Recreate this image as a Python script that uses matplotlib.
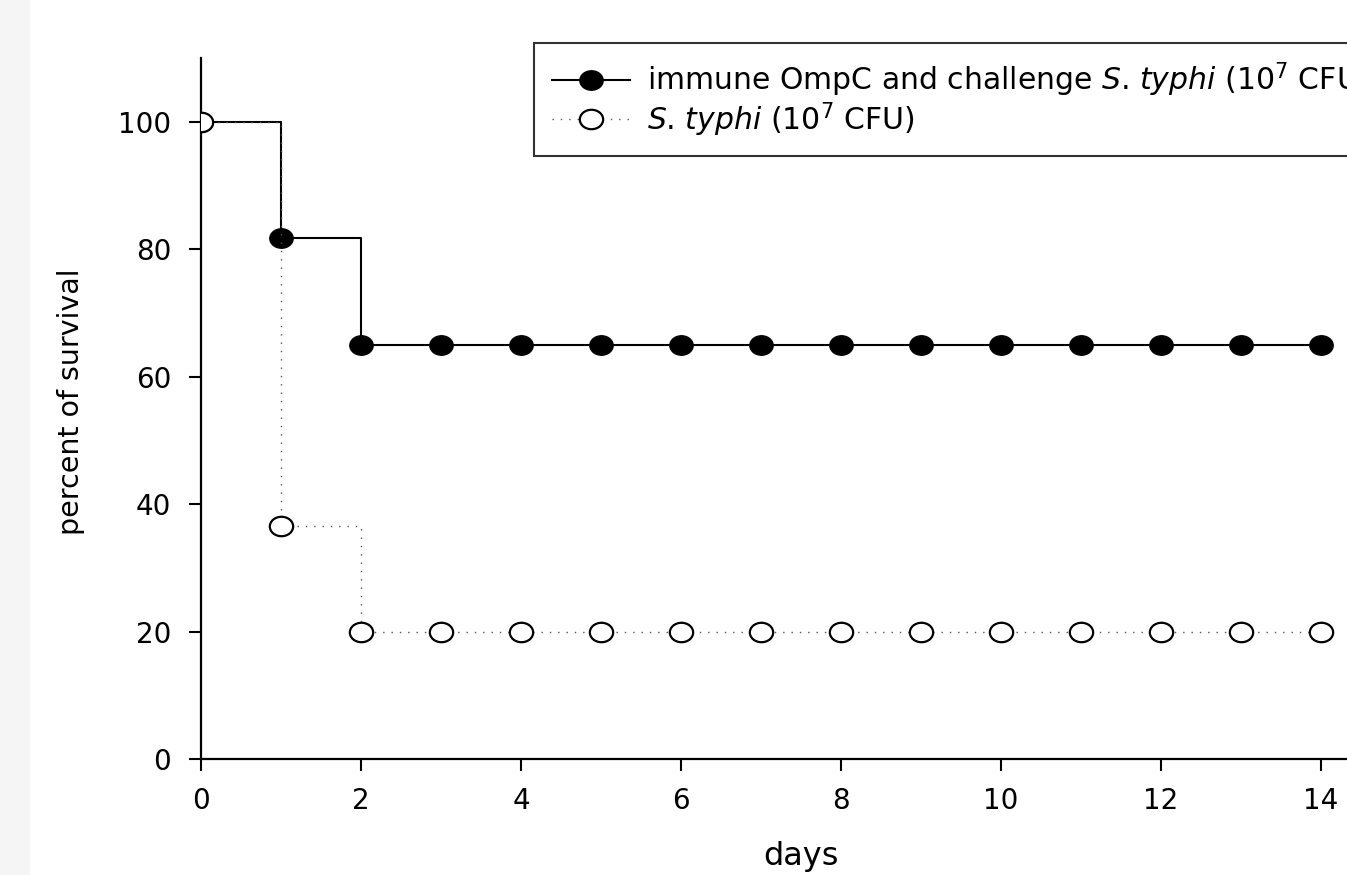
import numpy as np
import matplotlib
matplotlib.use("Agg")
import matplotlib.pyplot as plt
from matplotlib.markers import MarkerStyle
from matplotlib.transforms import Affine2D
from matplotlib.patches import Rectangle

plt.rcParams['font.family'] = ['DejaVu Sans']
plt.rcParams['mathtext.fontset'] = 'dejavusans'

# 数据
days = np.arange(0, 15)
immune = [100, 81.8, 65, 65, 65, 65, 65, 65, 65, 65, 65, 65, 65, 65, 65]
control = [100, 36.5, 20, 20, 20, 20, 20, 20, 20, 20, 20, 20, 20, 20, 20]
x_ticks = [0, 2, 4, 6, 8, 10, 12, 14]
y_ticks = [0, 20, 40, 60, 80, 100]
label_immune = r"immune OmpC and challenge $\mathit{S}$. $\mathit{typhi}$ (10$^7$ CFU)"
label_control = r"$\mathit{S}$. $\mathit{typhi}$ (10$^7$ CFU)"

W, H = 1347, 875
fig = plt.figure(figsize=(W / 100, H / 100), dpi=100)
fig.patches.append(Rectangle((0, 0), 30 / W, 1, transform=fig.transFigure,
                             facecolor='#f6f5f5', edgecolor='none', zorder=0))
# 原图右侧被裁掉，坐标轴延伸到画布外
ax = fig.add_axes([201 / W, 116 / H, 1200 / W, 701 / H])

mk = MarkerStyle('o', transform=Affine2D().scale(1.2, 1.0))

ax.step(days, immune, where='post', color='black', lw=1.5, zorder=2)
ax.plot(days, immune, ls='none', marker=mk, ms=14, mfc='black', mec='black',
        zorder=3)
ax.step(days, control, where='post', color='#555555', lw=1.0, ls=(0, (1, 5)),
        zorder=4)
ax.plot(days, control, ls='none', marker=mk, ms=14, mfc='white', mec='black',
        mew=1.6, zorder=5)

# 图例用的句柄
h1, = ax.plot([], [], color='black', lw=1.5, marker=mk, ms=14, mfc='black',
              mec='black')
h2, = ax.plot([], [], color='#555555', lw=1.0, ls=(0, (1, 5)), marker=mk,
              ms=14, mfc='white', mec='black', mew=1.6)

ax.set_xlim(0, 15)
ax.set_ylim(0, 110)
ax.set_xticks(x_ticks)
ax.set_yticks(y_ticks)
for s in ['top', 'right']:
    ax.spines[s].set_visible(False)
for s in ['left', 'bottom']:
    ax.spines[s].set_linewidth(1.6)
ax.tick_params(axis='both', direction='out', length=8.5, width=1.5,
               labelsize=20, color='black')
ax.tick_params(axis='y', pad=13)
ax.tick_params(axis='x', pad=12)

ax.set_xlabel('days', fontsize=23)
ax.xaxis.set_label_coords(0.5, -(865 - 759) / 701)
ax.xaxis.label.set_verticalalignment('baseline')
ax.set_ylabel('percent of survival', fontsize=20.5)
ax.yaxis.set_label_coords(-(201 - 71) / 1200, (759 - 401.5) / 701)
ax.yaxis.label.set_verticalalignment('center')

leg = fig.legend([h1, h2], [label_immune, label_control],
                 loc='upper left', bbox_to_anchor=(534 / W, 1 - 43 / H),
                 fontsize=21.5, frameon=True, fancybox=False, edgecolor='black',
                 handlelength=2.6, handletextpad=0.6, borderpad=0.6,
                 labelspacing=0.02, borderaxespad=0)
leg.get_frame().set_linewidth(1.5)

fig.savefig('out.png', dpi=100)
